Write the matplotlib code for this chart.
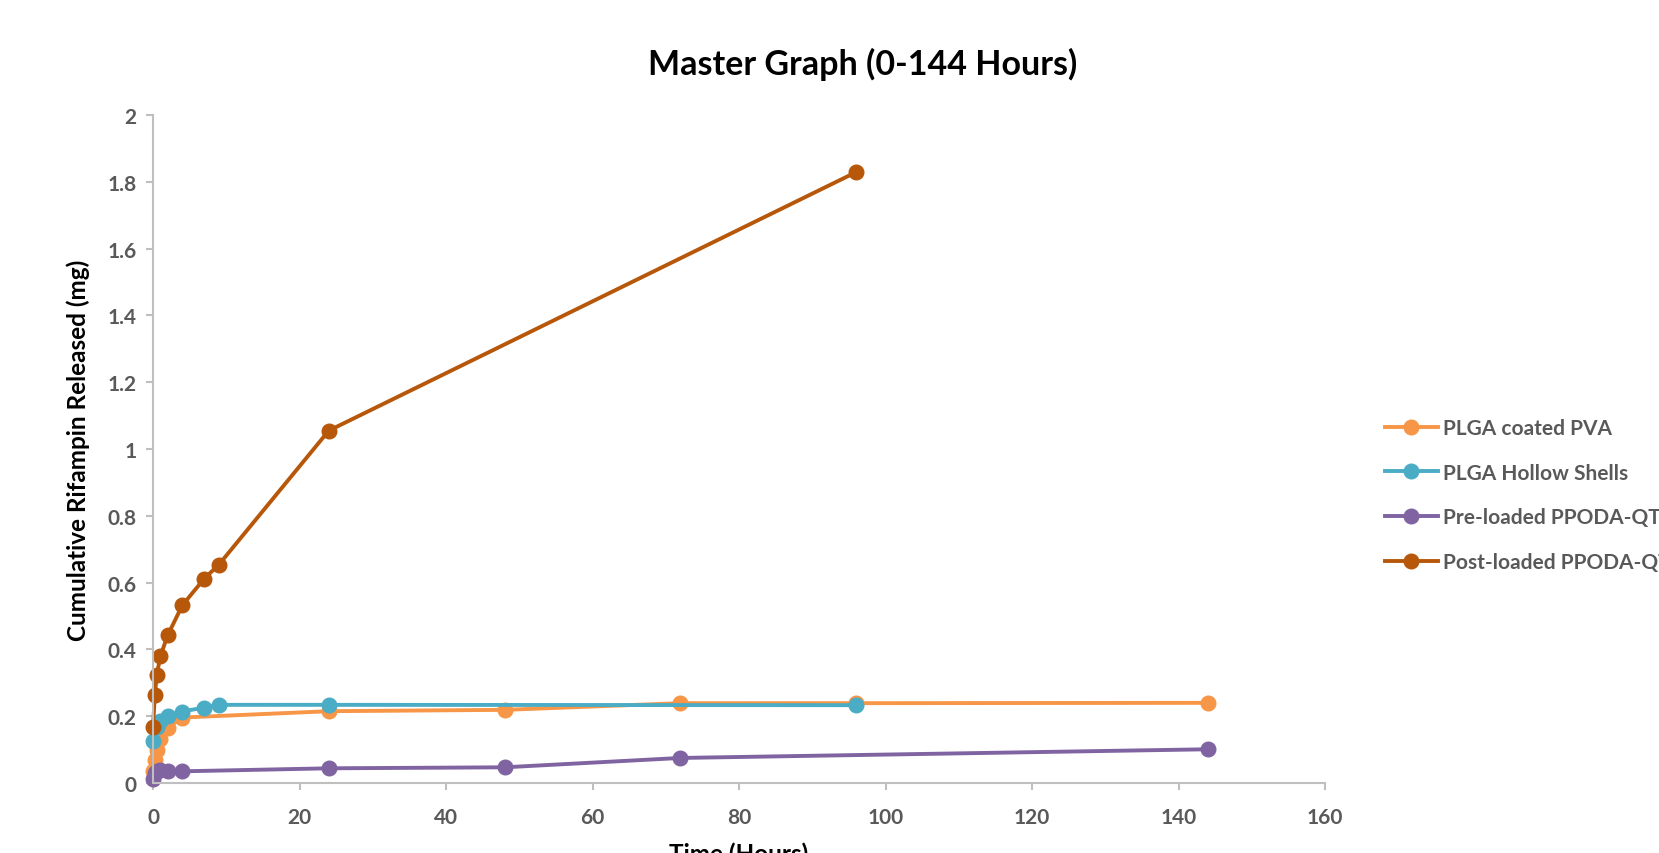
import numpy as np
import matplotlib
matplotlib.use('Agg')
import matplotlib.pyplot as plt

# data (hours, mg)
t_pva = [0, 0.25, 0.5, 1, 2, 4, 24, 48, 72, 96, 144]
y_pva = [0.037, 0.068, 0.098, 0.133, 0.165, 0.196, 0.215, 0.219, 0.239, 0.239, 0.240]

t_hollow = [0, 0.5, 1, 2, 4, 7, 9, 24, 96]
y_hollow = [0.125, 0.168, 0.186, 0.200, 0.214, 0.226, 0.234, 0.234, 0.233]

t_pre = [0, 0.25, 0.5, 1, 2, 4, 24, 48, 72, 144]
y_pre = [0.012, 0.030, 0.036, 0.038, 0.037, 0.035, 0.044, 0.047, 0.075, 0.101]

t_post = [0, 0.25, 0.5, 1, 2, 4, 7, 9, 24, 96]
y_post = [0.167, 0.262, 0.322, 0.379, 0.442, 0.532, 0.612, 0.654, 1.055, 1.829]

labels = ['PLGA coated PVA', 'PLGA Hollow Shells', 'Pre-loaded PPODA-QT', 'Post-loaded PPODA-QT']
colors = ['#F79646', '#4BACC6', '#8064A2', '#B7570A']

plt.rcParams.update({'font.family': ['Lato', 'DejaVu Sans'], 'font.weight': 'bold'})
gray = '#595959'

fig = plt.figure(figsize=(16.59, 8.54), dpi=100)
ax = fig.add_axes([153 / 1659, 70 / 854, (1325 - 153) / 1659, (784 - 116) / 854])

series = [(t_pva, y_pva), (t_hollow, y_hollow), (t_pre, y_pre), (t_post, y_post)]
for (t, y), lab, c in zip(series, labels, colors):
    ax.plot(t, y, color=c, lw=2.8, marker='o', markersize=10.5, label=lab, clip_on=False)

ax.set_xlim(0, 160)
ax.set_ylim(0, 2)
ax.set_xticks(np.arange(0, 161, 20))
ax.set_yticks(np.arange(0, 2.01, 0.2))
ax.set_yticklabels(['0', '0.2', '0.4', '0.6', '0.8', '1', '1.2', '1.4', '1.6', '1.8', '2'])

for s in ['top', 'right']:
    ax.spines[s].set_visible(False)
for s in ['left', 'bottom']:
    ax.spines[s].set_color('#BFBFBF')
    ax.spines[s].set_linewidth(1.5)
ax.tick_params(axis='both', colors='#BFBFBF', labelcolor=gray, labelsize=15, length=5, width=1.5)
ax.tick_params(axis='x', pad=12)
ax.tick_params(axis='y', pad=7)
for lbl in ax.get_xticklabels() + ax.get_yticklabels():
    lbl.set_fontweight('bold')

ax.set_ylabel('Cumulative Rifampin Released (mg)', fontsize=17.5, fontweight='bold', color='black', labelpad=12)
fig.text(739 / 1659, 11 / 854, 'Time (Hours)', ha='center', va='top', fontsize=17.5,
         fontweight='bold', color='black')
fig.text(863 / 1659, 1 - 64 / 854, 'Master Graph (0-144 Hours)', ha='center', va='center',
         fontsize=24.5, fontweight='bold', color='black')

leg = ax.legend(loc='center left', bbox_to_anchor=(1366 / 1659, 1 - 496 / 854),
                bbox_transform=fig.transFigure, frameon=False, fontsize=15,
                handlelength=2.55, handletextpad=0.25, labelspacing=1.19)
for txt in leg.get_texts():
    txt.set_color(gray)
    txt.set_fontweight('bold')

fig.savefig('out.png', dpi=100)
